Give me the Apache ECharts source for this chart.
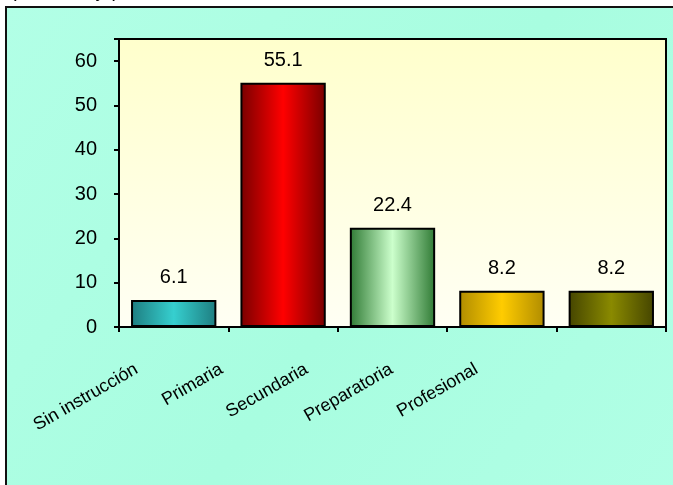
<!DOCTYPE html>
<html>
<head>
<meta charset="utf-8">
<script src="https://cdn.jsdelivr.net/npm/echarts@6/dist/echarts.min.js"></script>
<style>
html,body{margin:0;padding:0;background:#fff;}
#c{width:673px;height:485px;}
</style>
</head>
<body>
<div id="c"></div>
<script>
const categories = ['Sin instrucción', 'Primaria', 'Secundaria', 'Preparatoria', 'Profesional'];
const values = [6.1, 55.1, 22.4, 8.2, 8.2];
const yTicks = [0, 10, 20, 30, 40, 50, 60];
const edgeColors = ['#1e7d80', '#780000', '#2f7a34', '#b08c00', '#454500'];
const centerColors = ['#36cfcf', '#ff0000', '#ccffcc', '#ffcc00', '#8a8a00'];

function grad(i) {
  return new echarts.graphic.LinearGradient(0, 0, 1, 0, [
    {offset: 0, color: edgeColors[i]},
    {offset: 0.5, color: centerColors[i]},
    {offset: 1, color: edgeColors[i]}
  ]);
}

const font = 'Liberation Sans, Arial, sans-serif';
const chart = echarts.init(document.getElementById('c'), null, {renderer: 'canvas'});
chart.setOption({
  animation: false,
  graphic: [
    {
      type: 'rect', z: -10,
      shape: {x: 6, y: 7, width: 720, height: 520},
      style: {
        fill: new echarts.graphic.LinearGradient(0, 0, 1, 1, [
          {offset: 0, color: '#b2ffe6'},
          {offset: 0.5, color: '#a8fde0'},
          {offset: 1, color: '#b2ffe6'}
        ]),
        stroke: '#111', lineWidth: 2
      }
    },
    {
      type: 'text', left: 10, top: -19,
      style: {text: '(Porcentaje)', font: '20px ' + font, fill: '#000'}
    }
  ],
  grid: [
    {
      left: 119, top: 39, width: 547, height: 288,
      show: true,
      backgroundColor: new echarts.graphic.LinearGradient(0, 0, 0, 1, [
        {offset: 0, color: '#ffffcc'},
        {offset: 1, color: '#fffff4'}
      ]),
      borderColor: '#000', borderWidth: 2
    },
    {left: 94, top: 39, width: 425, height: 288, show: false}
  ],
  xAxis: [
    {
      type: 'category', gridIndex: 0, data: categories,
      axisLine: {lineStyle: {color: '#000', width: 2}},
      axisTick: {show: true, length: 5, lineStyle: {color: '#000', width: 2}},
      axisLabel: {show: false}
    },
    {
      type: 'category', gridIndex: 1, data: categories, position: 'bottom',
      axisLine: {show: false}, axisTick: {show: false},
      axisLabel: {show: true, interval: 0, rotate: 30, margin: 41,
        fontFamily: font, fontSize: 18, color: '#000'}
    }
  ],
  yAxis: [
    {
      type: 'value', gridIndex: 0, min: 0, max: 65, interval: 10,
      axisLine: {show: true, lineStyle: {color: '#000', width: 2}},
      axisTick: {show: true, length: 5, lineStyle: {color: '#000', width: 2}},
      splitLine: {show: false},
      axisLabel: {margin: 22, fontFamily: font, fontSize: 20, color: '#000',
        formatter: v => yTicks.includes(v) ? String(v) : ''}
    },
    {type: 'value', gridIndex: 1, show: false}
  ],
  series: [{
    type: 'bar', xAxisIndex: 0, yAxisIndex: 0,
    barWidth: '78%',
    data: values.map((v, i) => ({value: v, itemStyle: {color: grad(i)}})),
    itemStyle: {borderColor: '#000', borderWidth: 2},
    label: {show: true, position: 'top', distance: 12, fontFamily: font, fontSize: 20, color: '#000',
      formatter: p => p.value.toFixed(1)}
  }]
});
</script>
</body>
</html>
